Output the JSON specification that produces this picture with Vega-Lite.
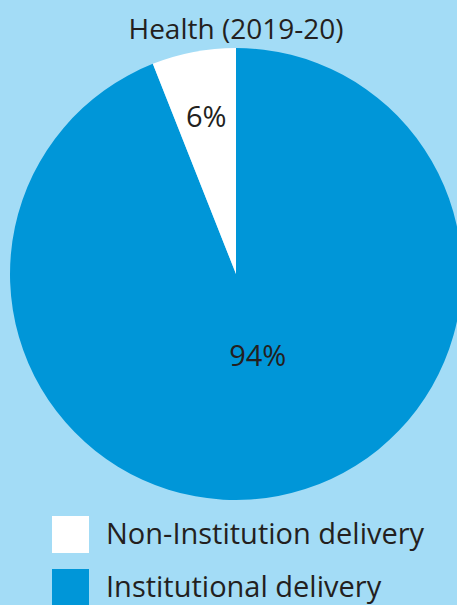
{
  "$schema": "https://vega.github.io/schema/vega-lite/v6.json",
  "autosize": {"type": "none"},
  "width": 472,
  "height": 452,
  "padding": {"left": 0, "top": 48, "right": 0, "bottom": 105},
  "background": "#a3dcf6",
  "config": {"view": {"stroke": null}, "font": "Open Sans"},
  "title": {"text": "Health (2019-20)", "fontSize": 28, "fontWeight": "normal", "color": "#231f20", "anchor": "middle", "offset": 3, "font": "Open Sans"},
  "data": {"values": [
    {"category": "Institutional delivery", "value": 94, "ord": 1, "label": "94%"},
    {"category": "Non-Institution delivery", "value": 6, "ord": 2, "label": "6%"}
  ]},
  "encoding": {
    "theta": {"field": "value", "type": "quantitative", "stack": true},
    "order": {"field": "ord", "type": "quantitative"}
  },
  "layer": [
    {
      "mark": {"type": "arc"},
      "encoding": {
        "color": {
          "field": "category", "type": "nominal",
          "scale": {"domain": ["Non-Institution delivery", "Institutional delivery"], "range": ["#ffffff", "#0096d8"]},
          "legend": {
            "title": null, "orient": "none", "legendX": 52, "legendY": 468,
            "symbolType": "square", "symbolSize": 1369, "symbolStrokeWidth": 0, "symbolOpacity": 1,
            "labelFontSize": 29, "labelFont": "Open Sans", "labelColor": "#231f20", "labelOffset": 17,
            "rowPadding": 16, "labelLimit": 400
          }
        }
      }
    },
    {
      "mark": {"type": "text", "radius": 159, "fontSize": 29, "color": "#231f20", "font": "Open Sans"},
      "encoding": {"text": {"condition": {"test": "datum.ord == 2", "field": "label"}, "value": ""}}
    },
    {
      "mark": {"type": "text", "radius": 84, "dx": 6, "fontSize": 29, "color": "#231f20", "font": "Open Sans"},
      "encoding": {"text": {"condition": {"test": "datum.ord == 1", "field": "label"}, "value": ""}}
    }
  ]
}
